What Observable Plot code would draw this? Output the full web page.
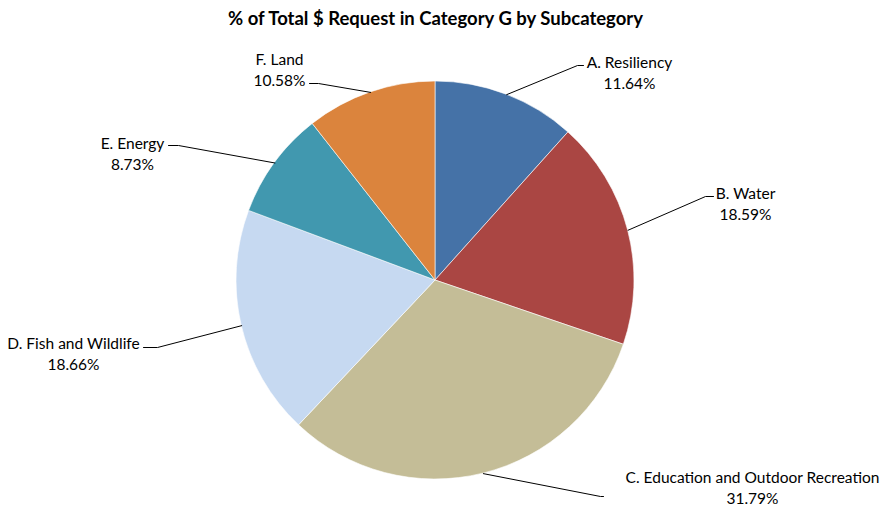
<!DOCTYPE html>
<html>
<head>
<meta charset="utf-8">
<script src="https://cdn.jsdelivr.net/npm/d3@7"></script>
<script src="https://cdn.jsdelivr.net/npm/@observablehq/plot@0.6"></script>
<style>
  body { margin: 0; background: #fff; }
  #title { width: 881px; height: 36px; line-height: 36px; text-align: center; box-sizing: border-box; padding-right: 10px;
           font-family: Lato, "Liberation Sans", sans-serif; font-weight: bold; font-size: 18.5px; color: #000; }
  #chart svg { display: block; }
</style>
</head>
<body>
<div id="title">% of Total $ Request in Category G by Subcategory</div>
<div id="chart"></div>
<script>
// ---- data ----
const categories = ["A. Resiliency", "B. Water", "C. Education and Outdoor Recreation", "D. Fish and Wildlife", "E. Energy", "F. Land"];
const shares = [11.64, 18.59, 31.79, 18.66, 8.73, 10.58];
const shareLabels = ["11.64%", "18.59%", "31.79%", "18.66%", "8.73%", "10.58%"];
const colors = ["#4572A7", "#AA4643", "#C4BD97", "#C6D9F1", "#4198AF", "#DB843D"];

// ---- layout (pixels relative to pie centre, y downward) ----
const R = 199;
const elbows = [[142, -215], [270, -84], [165, 216], [-278, 67], [-257, -135], [-117, -197]];
const lineEnds = [[148, -215], [278, -84], [168, 216], [-292, 67], [-267, -135], [-126, -197]];
const labelPos = [[194, -208.5], [310, -77.5], [317, 206.5], [-362, 72.5], [-303, -127.5], [-156, -211.5]];

const data = categories.map((c, i) => ({category: c, share: shares[i], label: shareLabels[i], color: colors[i]}));
const arcs = d3.pie().sort(null).value(d => d.share)(data);

const leader = [];
arcs.forEach((a, i) => {
  const m = (a.startAngle + a.endAngle) / 2;
  leader.push({k: i, x: R * Math.sin(m), y: -R * Math.cos(m)});
  leader.push({k: i, x: elbows[i][0], y: elbows[i][1]});
  leader.push({k: i, x: lineEnds[i][0], y: lineEnds[i][1]});
});

const labels = data.map((d, i) => ({text: d.category + "\n" + d.label, x: labelPos[i][0], y: labelPos[i][1]}));

function pieMark(index, scales) {
  const {x, y} = scales;
  const cx = x(0), cy = y(0), r = Math.abs(x(R) - x(0));
  const g = d3.create("svg:g").attr("transform", `translate(${cx},${cy})`);
  g.selectAll("path").data(arcs).join("path")
    .attr("d", d3.arc().innerRadius(0).outerRadius(r))
    .attr("fill", d => d.data.color)
    .attr("stroke", "#fff")
    .attr("stroke-width", 0.6);
  return g.node();
}

const chart = Plot.plot({
  width: 881,
  height: 470,
  margin: 0,
  x: {domain: [-435, 446], axis: null},
  y: {domain: [226, -244], axis: null},
  style: {fontFamily: "Lato, 'Liberation Sans', sans-serif", background: "#fff"},
  marks: [
    pieMark,
    Plot.line(leader, {x: "x", y: "y", z: "k", stroke: "#000", strokeWidth: 1}),
    Plot.text(labels, {x: "x", y: "y", text: "text", fontSize: 15.5, lineHeight: 1.3, fill: "#000", textAnchor: "middle"})
  ]
});
document.getElementById("chart").appendChild(chart);
</script>
</body>
</html>
